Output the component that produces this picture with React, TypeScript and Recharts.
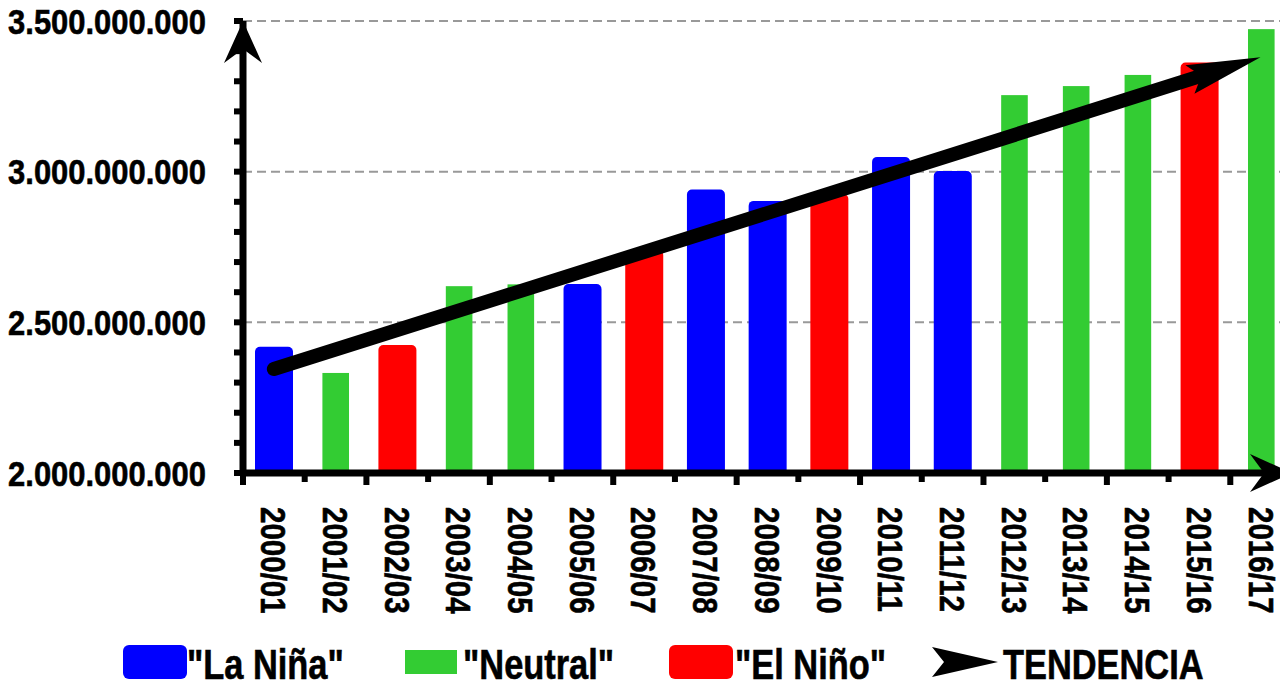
import React from 'react';
import { ComposedChart, Bar, Line, XAxis, YAxis, CartesianGrid, Rectangle } from 'recharts';

const seasons = [
  '2000/01', '2001/02', '2002/03', '2003/04', '2004/05', '2005/06', '2006/07', '2007/08', '2008/09',
  '2009/10', '2010/11', '2011/12', '2012/13', '2013/14', '2014/15', '2015/16', '2016/17',
];
const production = [
  2.419e9, 2.332e9, 2.425e9, 2.62e9, 2.626e9, 2.627e9, 2.74e9, 2.941e9, 2.903e9,
  2.926e9, 3.049e9, 3.002e9, 3.254e9, 3.284e9, 3.321e9, 3.362e9, 3.473e9,
];
const phases = [
  'nina', 'neutral', 'nino', 'neutral', 'neutral', 'nina', 'nino', 'nina', 'nina',
  'nino', 'nina', 'nina', 'neutral', 'neutral', 'neutral', 'nino', 'neutral',
];
// trend arrow: start and end
const trend = [2.345e9, null, null, null, null, null, null, null, null, null, null, null, null, null, null, 3.316e9, null];

const yTicks = [
  2.0e9, 2.1e9, 2.2e9, 2.3e9, 2.4e9, 2.5e9, 2.6e9, 2.7e9, 2.8e9, 2.9e9,
  3.0e9, 3.1e9, 3.2e9, 3.3e9, 3.4e9, 3.5e9,
];
const yMajor = [2.5e9, 3.0e9, 3.5e9];

const legendItems = [
  { key: 'nina', label: '"La Niña"' },
  { key: 'neutral', label: '"Neutral"' },
  { key: 'nino', label: '"El Niño"' },
  { key: 'trend', label: 'TENDENCIA' },
];
// left edge of each legend swatch / text (px)
const LEGEND_SWATCH_X = [123, 405, 669, 932];
const LEGEND_TEXT_X = [187, 463, 735, 1003];

const COLORS: Record<string, string> = {
  nina: '#0000ff',
  neutral: '#33cc33',
  nino: '#ff0000',
};

// no narrow font installed, so squeeze Liberation Sans Bold
const FONT = '"Liberation Sans", Arial, sans-serif';
const SQUEEZE = 0.82;

const data = seasons.map((s, i) => ({
  season: s,
  value: production[i],
  phase: phases[i],
  trend: trend[i],
}));

const fmt = (v: number) => Math.round(v).toString().replace(/\B(?=(\d{3})+(?!\d))/g, '.');

const BarShape = (props: any) => {
  const { x, y, width, height, payload } = props;
  const color = COLORS[payload.phase];
  if (payload.phase === 'neutral') {
    const w = width * 0.7;
    return <rect x={x + (width - w) / 2} y={y} width={w} height={height} fill={color} />;
  }
  return <Rectangle x={x} y={y} width={width} height={height} radius={[5, 5, 0, 0]} fill={color} />;
};

const YTick = (props: any) => {
  const { x, y, payload } = props;
  if (payload.value % 5e8 !== 0) return null;
  return (
    <text
      x={0}
      y={0}
      dy="0.35em"
      transform={`translate(${x}, ${y}) scale(0.86, 1)`}
      textAnchor="end"
      fontFamily={FONT}
      fontWeight="bold"
      fontSize={36}
      fill="#000"
      stroke="#000"
      strokeWidth={0.6}
    >
      {fmt(payload.value)}
    </text>
  );
};

const XTick = (props: any) => {
  const { x, y, payload, index } = props;
  const half = payload.offset ?? 30.85;
  const left = payload.coordinate - half;
  const len = index % 2 === 0 ? 12 : 9;
  return (
    <g>
      <rect x={left - 3} y={y} width={6} height={len} fill="#000" />
      <text
        x={0}
        y={0}
        dy="0.35em"
        transform={`translate(${x}, ${y + 34}) rotate(90) scale(${SQUEEZE}, 1)`}
        textAnchor="start"
        fontFamily={FONT}
        fontWeight="bold"
        fontSize={36}
        fill="#000"
        stroke="#000"
        strokeWidth={0.6}
      >
        {payload.value}
      </text>
    </g>
  );
};

const LegendSwatch = ({ kind, x }: { kind: string; x: number }) => {
  const cy = 22;
  if (kind === 'trend') {
    return <path d={`M${x},${cy - 15} L${x + 66},${cy} L${x},${cy + 15} L${x + 12},${cy} Z`} fill="#000" />;
  }
  if (kind === 'neutral') {
    return <rect x={x} y={cy - 12} width={52} height={24} fill={COLORS[kind]} />;
  }
  return <rect x={x} y={cy - 17} width={64} height={34} rx={6} ry={6} fill={COLORS[kind]} />;
};

const LegendBar = () => (
  <svg width={1280} height={43} style={{ position: 'absolute', left: 0, top: 640, display: 'block' }}>
    {legendItems.map((it, i) => (
      <g key={it.key}>
        <LegendSwatch kind={it.key} x={LEGEND_SWATCH_X[i]} />
        <text
          x={0}
          y={0}
          transform={`translate(${LEGEND_TEXT_X[i]}, 39) scale(0.8, 1)`}
          fontFamily={FONT}
          fontWeight="bold"
          fontSize={43}
          fill="#000"
          stroke="#000"
          strokeWidth={0.6}
        >
          {it.label}
        </text>
      </g>
    ))}
  </svg>
);

export default function App() {
  return (
    <div style={{ position: 'absolute', left: 0, top: 0, width: 1280, height: 683, overflow: 'hidden', background: '#fff' }}>
      <ComposedChart width={1300} height={640} data={data} margin={{ top: 21, right: 8, bottom: 0, left: 0 }}>
        <defs>
          <marker
            id="axisArrow"
            markerUnits="userSpaceOnUse"
            markerWidth={50}
            markerHeight={44}
            viewBox="0 -22 50 44"
            refX={42}
            refY={0}
            orient="auto-start-reverse"
          >
            <path d="M0,-19 L42,0 L0,19 L14,0 Z" fill="#000" />
          </marker>
          <marker
            id="trendArrow"
            markerUnits="userSpaceOnUse"
            markerWidth={80}
            markerHeight={40}
            viewBox="0 -20 80 40"
            refX={10}
            refY={0}
            orient="auto"
          >
            <path d="M0,-15 L74,0 L0,15 L12,0 Z" fill="#000" />
          </marker>
        </defs>
        <CartesianGrid vertical={false} horizontalValues={yMajor} stroke="#999" strokeWidth={2} strokeDasharray="9 5" />
        <Bar dataKey="value" barSize={38} shape={BarShape} isAnimationActive={false} />
        <Line
          dataKey="trend"
          connectNulls
          stroke="#000"
          strokeWidth={14}
          strokeLinecap="round"
          dot={false}
          activeDot={false}
          markerEnd="url(#trendArrow)"
          isAnimationActive={false}
        />
        <XAxis
          dataKey="season"
          interval={0}
          height={167}
          tickSize={0}
          tickMargin={0}
          tickLine={false}
          tick={<XTick />}
          axisLine={{ stroke: '#000', strokeWidth: 7, markerEnd: 'url(#axisArrow)' }}
        />
        <YAxis
          width={243}
          domain={[2e9, 3.5e9]}
          ticks={yTicks}
          interval={0}
          tickSize={9}
          tickMargin={28}
          tickLine={{ stroke: '#000', strokeWidth: 6 }}
          tick={<YTick />}
          axisLine={{ stroke: '#000', strokeWidth: 7, markerStart: 'url(#axisArrow)' }}
        />
      </ComposedChart>
      <LegendBar />
    </div>
  );
}
